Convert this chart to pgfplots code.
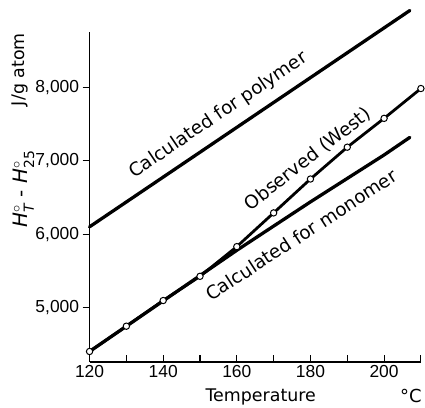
\documentclass[border=0pt]{standalone}
\usepackage{amsmath}
\usepackage{fontspec}
\setmainfont{Liberation Sans}
\newfontfamily\labfont{DejaVu Sans}
\usepackage{pgfplots}
\pgfplotsset{compat=1.18}
\newcommand{\lab}{\labfont\fontsize{18.5}{20}\selectfont}
\begin{document}
\begin{tikzpicture}
\begin{axis}[
  scale only axis, width=333pt, height=332pt,
  xmin=120, xmax=210, ymin=4254, ymax=8759,
  axis lines=left,
  axis line style={-, line width=1.5pt},
  clip=false,
  xtick={120,130,...,210},
  xticklabels={120,,140,,160,,180,,200,},
  ytick={5000,6000,7000,8000},
  xtick align=inside, ytick align=outside,
  major tick length=7pt,
  tick style={line width=1.1pt, black},
  /pgf/number format/1000 sep={,},
  /pgf/number format/assume math mode=true,
  tick label style={font=\fontsize{17.5}{17}\selectfont},
]
\addplot[black, line width=3.3pt, line cap=round] coordinates {(120,6100) (207,9050)};
\addplot[black, line width=3.3pt, line cap=round] coordinates {(120,4400) (140,5090) (160,5780) (180,6440) (200,7080) (207,7320)};
\addplot[black, line width=2.8pt, mark=*, mark size=3.2pt, mark options={fill=white, line width=1pt}] coordinates {
(120,4400) (130,4745) (140,5095) (150,5425) (160,5830) (170,6290) (180,6752) (190,7186) (200,7579) (210,7986)};
\node[rotate=34] at (axis cs:155,7620) {\lab Calculated for polymer};
\node[rotate=38] at (axis cs:179.3,7023) {\lab Observed (West)};
\node[rotate=33] at (axis cs:177.5,5990) {\lab Calculated for monomer};
\end{axis}
\node[rotate=90] at ([shift={(-66pt,174pt)}]current axis.south west) {\labfont\fontsize{20}{22}\selectfont\textit{H}$^{\circ}_{\text{\itshape T}}$ - \textit{H}$^{\circ}_{\text{25}}$};
\node[rotate=90] at ([shift={(-70pt,294pt)}]current axis.south west) {\labfont\fontsize{17.5}{20}\selectfont J/g atom};
\node[anchor=base] at ([shift={(172pt,-39pt)}]current axis.south west) {\labfont\fontsize{17.5}{20}\selectfont Temperature};
\node[anchor=base] at ([shift={(323pt,-41pt)}]current axis.south west) {\labfont\fontsize{18}{20}\selectfont °C};
\path[use as bounding box] ([shift={(-90pt,-45pt)}]current axis.south west) rectangle ([shift={(2pt,32pt)}]current axis.north east);
\end{tikzpicture}
\end{document}
